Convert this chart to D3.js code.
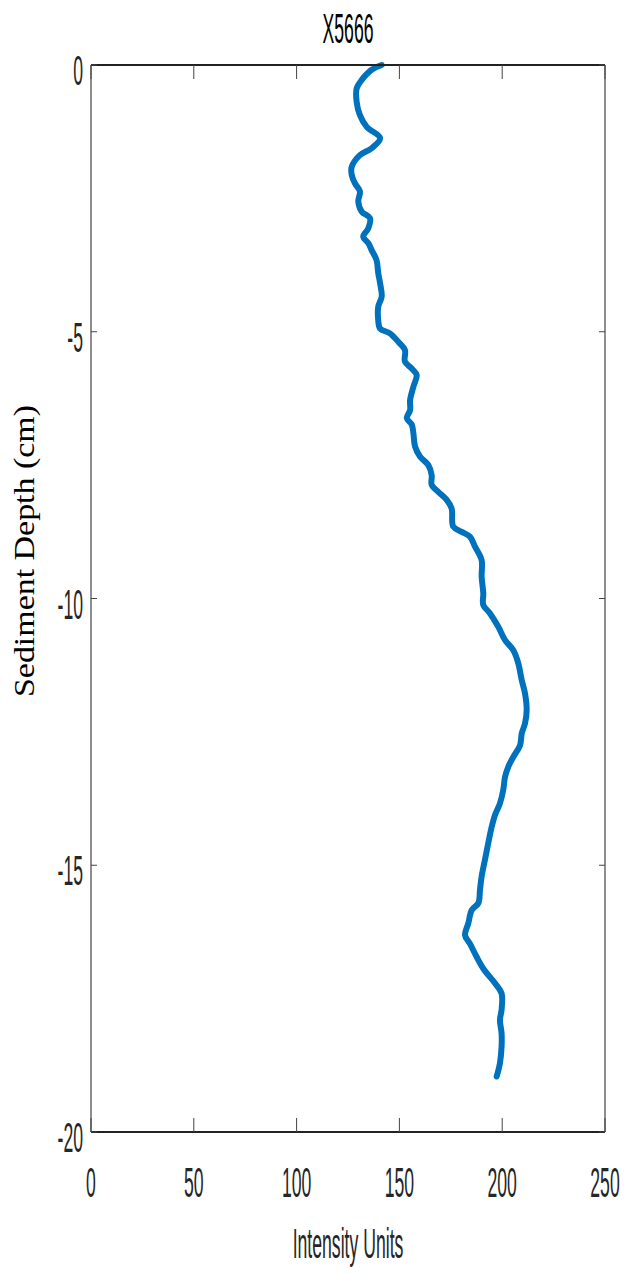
<!DOCTYPE html>
<html>
<head>
<meta charset="utf-8">
<script src="https://cdn.jsdelivr.net/npm/d3@7"></script>
<style>
  html, body { margin: 0; padding: 0; background: #fff; }
  svg { display: block; }
</style>
</head>
<body>
<svg id="chart" width="626" height="1274"></svg>
<script>
const title = "X5666";
const xLabel = "Intensity Units";
const yLabel = "Sediment Depth (cm)";
const xTicks = [0, 50, 100, 150, 200, 250];
const yTicks = [0, -5, -10, -15, -20];

const depth = [0, -0.09, -0.28, -0.44, -0.69, -0.94, -1.16, -1.37, -1.56, -1.69, -1.91, -2.06, -2.22, -2.37, -2.56, -2.75, -2.87, -3.06, -3.22, -3.34,
  -3.47, -3.66, -3.90, -4.09, -4.34, -4.53, -4.78, -4.94, -5.03, -5.19, -5.34, -5.56, -5.69, -5.81, -6.03, -6.28, -6.47, -6.62,
  -6.74, -6.90, -7.15, -7.34, -7.50, -7.69, -7.87, -8.00, -8.15, -8.31, -8.65, -8.75, -8.84, -9.03, -9.28, -9.59, -9.90, -10.12,
  -10.28, -10.53, -10.78, -10.97, -11.21, -11.53, -11.78, -12.09, -12.34, -12.53, -12.75, -12.97, -13.15, -13.34, -13.59,
  -13.84, -14.06, -14.28, -14.59, -14.90, -15.21, -15.46, -15.71, -15.84, -16.09, -16.31, -16.47, -16.72, -16.96, -17.21,
  -17.40, -17.71, -17.90, -18.15, -18.40, -18.71, -18.96];
const intensity = [141.4, 136.5, 131.7, 129.2, 129.2, 130.8, 134.1, 140.6, 136.5, 130.8, 126.8, 126.8, 128.4, 130.8, 130.0, 131.7, 135.7, 134.9, 132.4, 134.9,
  136.5, 138.9, 139.7, 140.6, 141.4, 139.7, 139.7, 140.6, 145.4, 149.5, 152.7, 152.7, 156.0, 158.4, 156.8, 155.2, 155.2, 153.6,
  156.0, 156.8, 157.6, 160.0, 164.1, 165.7, 165.7, 168.9, 173.0, 175.4, 176.2, 180.3, 184.3, 186.8, 190.0, 190.0, 190.8, 190.8,
  194.1, 198.1, 201.4, 205.4, 207.8, 209.5, 211.1, 211.9, 211.1, 209.5, 208.7, 205.4, 203.0, 201.4, 200.5,
  198.9, 196.5, 194.9, 193.2, 191.6, 190.0, 189.2, 188.4, 185.2, 183.5, 181.9, 184.3, 187.6, 191.2, 196.5,
  199.7, 199.7, 198.9, 199.7, 199.7, 198.9, 197.3];

const L = 91, R = 605, T = 65, B = 1132;
const x = d3.scaleLinear().domain([0, 250]).range([L, R]);
const y = d3.scaleLinear().domain([-20, 0]).range([B, T]);

const svg = d3.select("#chart");
const textColor = "#262626";
const sansFont = "'Liberation Sans', Arial, sans-serif";
const fs = 43, sx = 0.41;

// data line
const pts = depth.map((d, i) => [intensity[i], d]);
svg.append("path")
  .datum(pts)
  .attr("fill", "none")
  .attr("stroke", "#0072BD")
  .attr("stroke-width", 6)
  .attr("stroke-linejoin", "round")
  .attr("stroke-linecap", "round")
  .attr("d", d3.line().x(p => x(p[0])).y(p => y(p[1])).curve(d3.curveCatmullRom.alpha(0.5)));

// box
const box = svg.append("g");
box.append("line").attr("x1", L).attr("x2", R).attr("y1", T).attr("y2", T).attr("stroke", "#222").attr("stroke-width", 2);
box.append("line").attr("x1", L).attr("x2", R).attr("y1", B).attr("y2", B).attr("stroke", "#222").attr("stroke-width", 2);
box.append("line").attr("x1", L).attr("x2", L).attr("y1", T).attr("y2", B).attr("stroke", "#444").attr("stroke-width", 1.2);
box.append("line").attr("x1", R).attr("x2", R).attr("y1", T).attr("y2", B).attr("stroke", "#444").attr("stroke-width", 1.2);

// x ticks (bottom & top, inward)
const xt = svg.append("g");
xTicks.forEach(v => {
  xt.append("line").attr("x1", x(v)).attr("x2", x(v)).attr("y1", B).attr("y2", B - 14).attr("stroke", "#444").attr("stroke-width", 1);
  xt.append("line").attr("x1", x(v)).attr("x2", x(v)).attr("y1", T).attr("y2", T + 14).attr("stroke", "#444").attr("stroke-width", 1);
  xt.append("text")
    .attr("transform", `translate(${x(v)},${B + 65}) scale(${sx},1)`)
    .attr("text-anchor", "middle")
    .attr("font-family", sansFont).attr("font-size", fs).attr("fill", textColor)
    .text(String(v));
});

// y ticks (left & right, inward)
const yt = svg.append("g");
yTicks.forEach(v => {
  yt.append("line").attr("x1", L).attr("x2", L + 6).attr("y1", y(v)).attr("y2", y(v)).attr("stroke", "#444").attr("stroke-width", 1);
  yt.append("line").attr("x1", R).attr("x2", R - 6).attr("y1", y(v)).attr("y2", y(v)).attr("stroke", "#444").attr("stroke-width", 1);
  yt.append("text")
    .attr("transform", `translate(${L - 8},${y(v) + 20}) scale(${sx},1)`)
    .attr("text-anchor", "end")
    .attr("font-family", sansFont).attr("font-size", fs).attr("fill", textColor)
    .text(String(v));
});

// title
svg.append("text")
  .attr("transform", `translate(${(L + R) / 2},43) scale(${sx},1)`)
  .attr("text-anchor", "middle")
  .attr("font-family", sansFont).attr("font-size", fs).attr("fill", "#000")
  .text(title);

// x label
svg.append("text")
  .attr("transform", `translate(${(L + R) / 2},1258) scale(${sx},1)`)
  .attr("text-anchor", "middle")
  .attr("font-family", sansFont).attr("font-size", fs).attr("fill", textColor)
  .text(xLabel);

// y label
svg.append("text")
  .attr("transform", `translate(34,551) rotate(-90)`)
  .attr("text-anchor", "middle")
  .attr("font-family", "'Liberation Serif', 'DejaVu Serif', serif")
  .attr("font-size", 30).attr("fill", "#000")
  .attr("textLength", 292).attr("lengthAdjust", "spacingAndGlyphs")
  .text(yLabel);
</script>
</body>
</html>
